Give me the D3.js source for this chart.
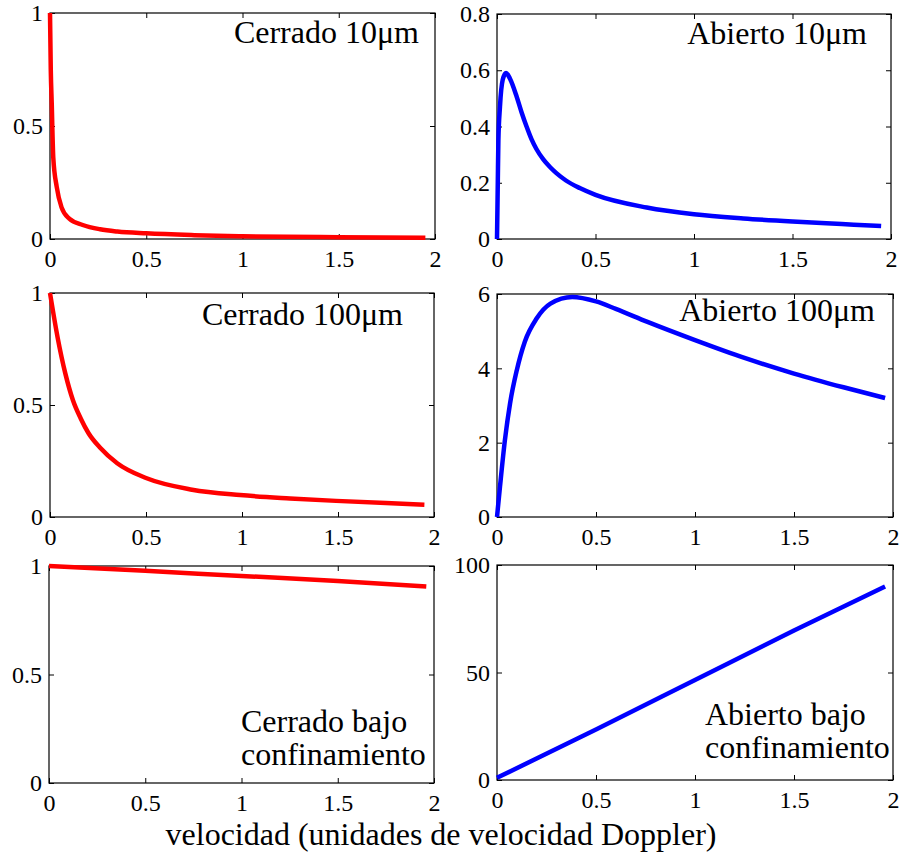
<!DOCTYPE html>
<html>
<head>
<meta charset="utf-8">
<script src="https://cdn.jsdelivr.net/npm/d3@7"></script>
<style>
  html, body { margin: 0; padding: 0; background: #fff; }
  svg { display: block; font-family: "Liberation Serif", "Times New Roman", serif; }
</style>
</head>
<body>
<div id="chart"></div>
<script>
// x axis shared by all panels
const xTicks = [0, 0.5, 1, 1.5, 2];
const xLabel = 'velocidad (unidades de velocidad Doppler)';

// Cerrado 10μm
const cerrado10X = [0, 0.004, 0.009, 0.017, 0.035, 0.06, 0.10, 0.17, 0.26, 0.35, 0.5, 0.75, 1.0, 1.5, 1.95];
const cerrado10Y = [1, 0.75, 0.6, 0.36, 0.23, 0.14, 0.09, 0.062, 0.043, 0.033, 0.025, 0.017, 0.012, 0.008, 0.005];

// Abierto 10μm
const abierto10X = [0, 0.004, 0.007, 0.015, 0.029, 0.046, 0.066, 0.10, 0.125, 0.15, 0.175, 0.20, 0.235, 0.27, 0.30, 0.35, 0.42, 0.5, 0.76, 1.0, 1.25, 1.5, 1.75, 1.95];
const abierto10Y = [0, 0.2, 0.35, 0.47, 0.566, 0.59, 0.57, 0.506, 0.45, 0.40, 0.355, 0.32, 0.283, 0.255, 0.235, 0.208, 0.181, 0.157, 0.112, 0.088, 0.073, 0.062, 0.053, 0.046];

// Cerrado 100μm
const cerrado100X = [0, 0.04, 0.08, 0.12, 0.16, 0.20, 0.26, 0.35, 0.5, 0.74, 0.99, 1.25, 1.49, 1.75, 1.95];
const cerrado100Y = [1.0, 0.80, 0.64, 0.52, 0.44, 0.375, 0.31, 0.24, 0.174, 0.122, 0.098, 0.083, 0.072, 0.062, 0.055];

// Abierto 100μm
const abierto100X = [0, 0.015, 0.04, 0.066, 0.10, 0.14, 0.20, 0.27, 0.38, 0.5, 0.6, 0.76, 1.0, 1.25, 1.5, 1.75, 1.96];
const abierto100Y = [0, 0.81, 2.07, 3.06, 3.95, 4.71, 5.34, 5.74, 5.92, 5.8, 5.6, 5.25, 4.76, 4.28, 3.86, 3.49, 3.2];

// bajo confinamiento
const cerradoConfX = [0, 0.5, 1, 1.5, 1.96];
const cerradoConfY = [1, 0.978, 0.954, 0.931, 0.905];
const abiertoConfX = [0, 0.5, 1, 1.5, 1.96];
const abiertoConfY = [1, 23.5, 46.5, 69.5, 90];

// y ticks per panel
const yTicks10c = [0, 0.5, 1];
const yTicks10a = [0, 0.2, 0.4, 0.6, 0.8];
const yTicks100c = [0, 0.5, 1];
const yTicks100a = [0, 2, 4, 6];
const yTicksConfC = [0, 0.5, 1];
const yTicksConfA = [0, 50, 100];

const RED = '#ff0000', BLUE = '#0000ff';

const W = 901, H = 858;
const svg = d3.select('#chart').append('svg').attr('width', W).attr('height', H);

const panels = [
  { xs: cerrado10X, ys: cerrado10Y, yMax: 1, yTicks: yTicks10c, color: RED,
    box: [50, 435, 13, 239], title: ['Cerrado 10μm'], tx: 419, ty: 43, anchor: 'end' },
  { xs: abierto10X, ys: abierto10Y, yMax: 0.8, yTicks: yTicks10a, color: BLUE,
    box: [497, 891, 14, 239], title: ['Abierto 10μm'], tx: 867, ty: 44, anchor: 'end' },
  { xs: cerrado100X, ys: cerrado100Y, yMax: 1, yTicks: yTicks100c, color: RED,
    box: [50, 434, 293, 517], title: ['Cerrado 100μm'], tx: 403, ty: 325, anchor: 'end' },
  { xs: abierto100X, ys: abierto100Y, yMax: 6, yTicks: yTicks100a, color: BLUE,
    box: [497, 893, 294, 517], title: ['Abierto 100μm'], tx: 875, ty: 321, anchor: 'end' },
  { xs: cerradoConfX, ys: cerradoConfY, yMax: 1, yTicks: yTicksConfC, color: RED,
    box: [49, 434, 566, 783], title: ['Cerrado bajo', 'confinamiento'], tx: 241, ty: 732, anchor: 'start' },
  { xs: abiertoConfX, ys: abiertoConfY, yMax: 100, yTicks: yTicksConfA, color: BLUE,
    box: [497, 893, 565, 780], title: ['Abierto bajo', 'confinamiento'], tx: 705, ty: 725, anchor: 'start' },
];

const fmt = d => String(d);

panels.forEach(p => {
  const [x0, x1, y0, y1] = p.box;
  const x = d3.scaleLinear().domain([0, 2]).range([x0, x1]);
  const y = d3.scaleLinear().domain([0, p.yMax]).range([y1, y0]);
  const g = svg.append('g');

  // ticks on all four sides, pointing inward
  const axes = [
    [d3.axisBottom(x).tickValues(xTicks).tickFormat(fmt).tickPadding(11), `translate(0,${y1})`],
    [d3.axisTop(x).tickValues(xTicks).tickFormat(''), `translate(0,${y0})`],
    [d3.axisLeft(y).tickValues(p.yTicks).tickFormat(fmt).tickPadding(7), `translate(${x0},0)`],
    [d3.axisRight(y).tickValues(p.yTicks).tickFormat(''), `translate(${x1},0)`],
  ];
  axes.forEach(([ax, tr]) => {
    const a = g.append('g').attr('transform', tr)
      .call(ax.tickSizeInner(-5).tickSizeOuter(0))
      .attr('font-family', null).attr('font-size', 24);
    a.select('.domain').remove();
    a.selectAll('line').attr('stroke', '#000').attr('stroke-width', 1);
    a.selectAll('text').attr('fill', '#000');
  });

  g.append('rect').attr('x', x0).attr('y', y0)
    .attr('width', x1 - x0).attr('height', y1 - y0)
    .attr('fill', 'none').attr('stroke', '#000').attr('stroke-width', 1.2);

  const pts = p.xs.map((v, i) => [v, p.ys[i]]);
  g.append('path').datum(pts)
    .attr('d', d3.line().x(d => x(d[0])).y(d => y(d[1])).curve(d3.curveMonotoneX))
    .attr('fill', 'none').attr('stroke', p.color).attr('stroke-width', 4.5)
    .attr('stroke-linejoin', 'round');

  const t = g.append('text').attr('x', p.tx).attr('y', p.ty)
    .attr('text-anchor', p.anchor).attr('font-size', 32).attr('fill', '#000');
  p.title.forEach((s, i) => {
    t.append('tspan').attr('x', p.tx).attr('dy', i === 0 ? 0 : 33).text(s);
  });
});

svg.append('text').attr('x', 441).attr('y', 845)
  .attr('text-anchor', 'middle').attr('font-size', 32).attr('fill', '#000')
  .text(xLabel);
</script>
</body>
</html>
